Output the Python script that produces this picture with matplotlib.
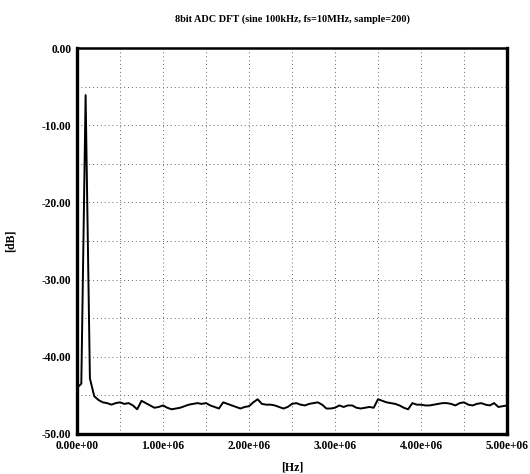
import numpy as np
import matplotlib
matplotlib.use('Agg')
import matplotlib.pyplot as plt

# DFT bins: fs=10MHz, 200 samples -> 50kHz per bin, bins 0..100
bin_step = 50e3
mag_db = [
    -44.0, -43.5, -6.1, -42.8, -45.1, -45.6, -45.9, -46.0, -46.2, -46.0,
    -45.9, -46.1, -46.0, -46.3, -46.8, -45.7, -46.0, -46.3, -46.6, -46.5,
    -46.3, -46.6, -46.8, -46.7, -46.6, -46.4, -46.2, -46.1, -46.0, -46.1,
    -46.0, -46.3, -46.5, -46.7, -45.9, -46.1, -46.3, -46.5, -46.7, -46.5,
    -46.4, -45.9, -45.5, -46.1, -46.2, -46.2, -46.3, -46.5, -46.7, -46.5,
    -46.1, -46.0, -46.2, -46.3, -46.1, -46.0, -45.9, -46.2, -46.7, -46.7,
    -46.6, -46.3, -46.5, -46.3, -46.3, -46.6, -46.7, -46.6, -46.5, -46.6,
    -45.5, -45.7, -45.9, -46.0, -46.1, -46.3, -46.6, -46.8, -46.0, -46.2,
    -46.2, -46.3, -46.3, -46.2, -46.1, -46.0, -46.0, -46.1, -46.3, -46.0,
    -45.9, -46.2, -46.3, -46.1, -46.0, -46.2, -46.3, -46.0, -46.5, -46.4,
    -46.3,
]
freq = np.arange(len(mag_db)) * bin_step

x_ticks = [0, 1e6, 2e6, 3e6, 4e6, 5e6]
x_labels = ['0.00e+00', '1.00e+06', '2.00e+06', '3.00e+06', '4.00e+06', '5.00e+06']
y_ticks = [0, -10, -20, -30, -40, -50]
y_labels = ['0.00', '-10.00', '-20.00', '-30.00', '-40.00', '-50.00']

plt.rcParams['font.family'] = ['Liberation Serif', 'DejaVu Serif']
plt.rcParams['font.weight'] = 'bold'

fig = plt.figure(figsize=(5.3, 4.74), dpi=100)
ax = fig.add_axes([0.1453, 0.0844, 0.8113, 0.8143])

ax.plot(freq, mag_db, color='black', lw=1.4)

ax.set_xlim(0, 5e6)
ax.set_ylim(-50, 0)

# grid every 0.5MHz / 5dB, labels only on the major ones
ax.set_xticks(np.arange(0, 5.01e6, 0.5e6), minor=True)
ax.set_yticks(np.arange(-50, 0.1, 5), minor=True)
ax.set_xticks(x_ticks)
ax.set_xticklabels(x_labels)
ax.set_yticks(y_ticks)
ax.set_yticklabels(y_labels)
ax.grid(True, which='both', ls=(0, (1, 3)), color='#666666', lw=0.7)
ax.tick_params(which='both', length=0, labelsize=8.3, pad=4)

for side in ['left', 'bottom', 'right']:
    ax.spines[side].set_linewidth(2.4)
ax.spines['top'].set_linewidth(1.8)

ax.set_title('8bit ADC DFT (sine 100kHz, fs=10MHz, sample=200)',
             fontsize=7.4, fontweight='bold', pad=19)
ax.set_xlabel('[Hz]', fontsize=8.5, fontweight='bold', labelpad=7)
ax.set_ylabel('[dB]', fontsize=8.5, fontweight='bold', labelpad=18)

plt.savefig('out.png', dpi=100)
plt.close()
